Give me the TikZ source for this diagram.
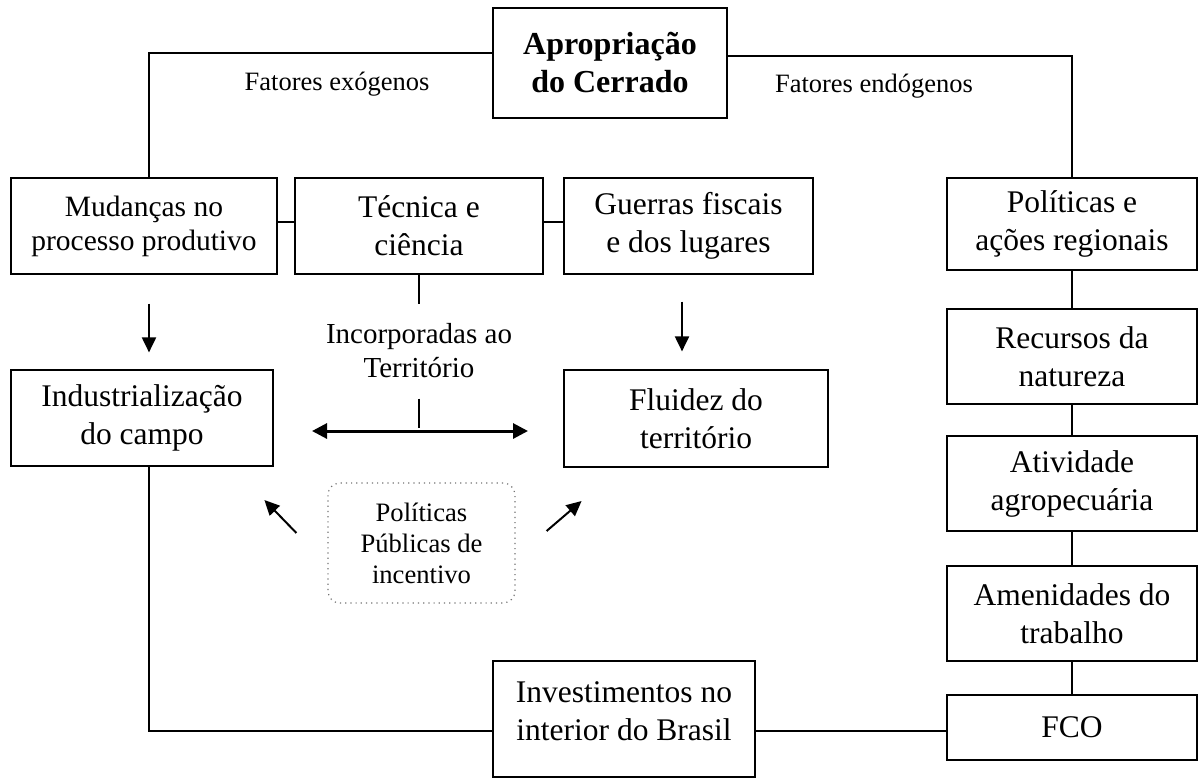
\documentclass[tikz,border=0pt]{standalone}
\usepackage{fontspec}
\setmainfont{Liberation Serif}
\usetikzlibrary{arrows.meta}
\begin{document}
\begin{tikzpicture}[x=0.5pt,y=-0.5pt,
  box/.style={draw,line width=0.6pt,align=center,inner sep=0pt,minimum height=48pt,font=\fontsize{15.75}{19}\selectfont},
  smallbox/.style={box,font=\fontsize{14.75}{17}\selectfont},
  titlebox/.style={box,font=\bfseries\fontsize{16}{19}\selectfont},
  fator/.style={inner sep=0pt,font=\fontsize{13.25}{16}\selectfont},
  incbox/.style={draw=black!55,dotted,line width=0.6pt,rounded corners=6pt,align=center,inner sep=0pt,font=\fontsize{13.3}{15.5}\selectfont},
  link/.style={line width=0.6pt},
  arr/.style={line width=1pt,-{Triangle[length=7.5pt,width=7pt]}},
  dblarr/.style={line width=1.5pt,{Triangle[length=7.5pt,width=7.5pt]}-{Triangle[length=7.5pt,width=7.5pt]}}]
\useasboundingbox (0,0) rectangle (1199,778);
\node[titlebox,minimum width=117pt,minimum height=55pt] (titulo) at (610,63) {Apropriação\\do Cerrado};
\node[fator] (exo) at (337,84) {Fatores exógenos};
\node[fator] (endo) at (874,86) {Fatores endógenos};
\node[smallbox,minimum width=133pt] (mud) at (144,226) {Mudanças no\\processo produtivo};
\node[box,minimum width=124pt] (tec) at (419,226) {Técnica e\\ciência};
\node[box,minimum width=124.5pt] (gue) at (688.5,226) {Guerras fiscais\\e dos lugares};
\node[box,minimum width=125pt,minimum height=46pt] (pol) at (1072,224) {Políticas e\\ações regionais};
\node[box,minimum width=125pt,minimum height=47.5pt] (rec) at (1072,356.5) {Recursos da\\natureza};
\node[box,minimum width=125pt,minimum height=47.5pt] (ati) at (1072,483.5) {Atividade\\agropecuária};
\node[box,minimum width=125pt,minimum height=47.5pt] (ame) at (1072,613.5) {Amenidades do\\trabalho};
\node[box,minimum width=125pt,minimum height=32.5pt] (fco) at (1072,727.5) {FCO};
\node[box,minimum width=131pt] (ind) at (142,418) {Industrialização\\do campo};
\node[box,minimum width=132pt,minimum height=48.5pt] (flu) at (696,418.5) {Fluidez do\\território};
\node[align=center,inner sep=0pt,font=\fontsize{14.5}{17}\selectfont] (inc) at (419,351) {Incorporadas ao\\Território};
\node[incbox,minimum width=93.5pt,minimum height=60pt] (pub) at (421.5,543) {Políticas\\Públicas de\\incentivo};
\node[box,minimum width=131pt,minimum height=58pt] (inv) at (624,719) {};
\node[align=center,inner sep=0pt,font=\fontsize{15.75}{19}\selectfont] (invtxt) at (624,711) {Investimentos no\\interior do Brasil};
\coordinate (incL) at (312,431);\coordinate (incR) at (528,431);
\draw[link] ([yshift=5pt]titulo.west) -| ([xshift=2.5pt]mud.north);
\draw[link] ([yshift=3.5pt]titulo.east) -| (pol.north);
\draw[link] ([yshift=2pt]mud.east) -- ([yshift=2pt]tec.west);\draw[link] ([yshift=2pt]tec.east) -- ([yshift=2pt]gue.west);
\draw[link] (pol) -- (rec);\draw[link] (rec) -- (ati);\draw[link] (ati) -- (ame);\draw[link] (ame) -- (fco);
\draw[link] (tec.south) -- ++(0,29);\draw[link] (tec.south) ++(0,124) -- ++(0,29);
\draw[arr,shorten <=14.5pt,shorten >=8.5pt] ([xshift=2.5pt]mud.south) -- ([xshift=2.5pt]mud.south |- ind.north);
\draw[arr,shorten <=13.5pt,shorten >=9pt] ([xshift=-3.25pt]gue.south) -- ([xshift=-3.25pt]gue.south |- flu.north);
\draw[dblarr] (incL) -- (incR);
\draw[arr] ([shift={(-31,-10)}]pub.west) -- ++(-32,-33);
\draw[arr] ([shift={(31,-12)}]pub.east) -- ++(35,-30);
\draw[link] ([xshift=3.5pt]ind.south) |- ([yshift=-6pt]inv.west);
\draw[link] ([yshift=-6pt]inv.east) -- ([yshift=-6pt]inv.east -| fco.west);
\end{tikzpicture}
\end{document}
